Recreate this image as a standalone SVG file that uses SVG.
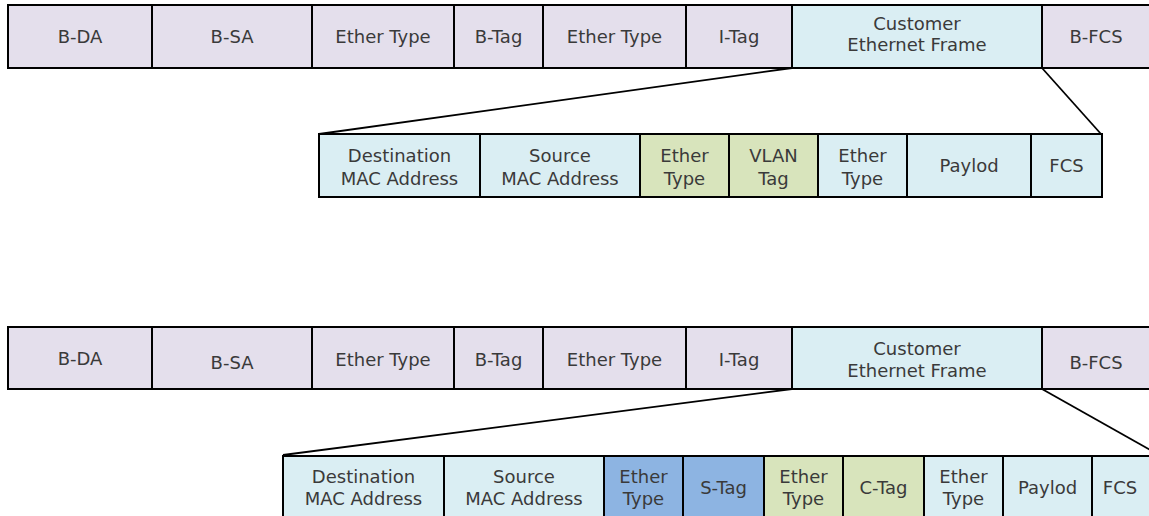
<svg xmlns="http://www.w3.org/2000/svg" width="1149" height="516" viewBox="0 0 1149 516">
<style>
.box{stroke:#000;stroke-width:2}
.lav{fill:#E4DFEC}.lb{fill:#DAEEF3}.gr{fill:#D8E4BC}.bl{fill:#8DB4E2}
text{font-family:"DejaVu Sans","Verdana",sans-serif;font-size:18px;fill:#3a3a3a;text-anchor:middle}
.conn line{stroke:#000;stroke-width:1.8}
</style>
<rect x="0" y="0" width="1149" height="516" fill="#fff"/>
<g id="frame1">
<g id="f1-bda"><rect class="box lav" x="8" y="5" width="144" height="63"/><text x="80" y="43">B-DA</text></g>
<g id="f1-bsa"><rect class="box lav" x="152" y="5" width="160" height="63"/><text x="232" y="43">B-SA</text></g>
<g id="f1-et1"><rect class="box lav" x="312" y="5" width="142" height="63"/><text x="383" y="43">Ether Type</text></g>
<g id="f1-btag"><rect class="box lav" x="454" y="5" width="89" height="63"/><text x="498.5" y="43">B-Tag</text></g>
<g id="f1-et2"><rect class="box lav" x="543" y="5" width="143" height="63"/><text x="614.5" y="43">Ether Type</text></g>
<g id="f1-itag"><rect class="box lav" x="686" y="5" width="106" height="63"/><text x="739" y="43">I-Tag</text></g>
<g id="f1-cef"><rect class="box lb" x="792" y="5" width="250" height="63"/><text x="917" y="30">Customer</text><text x="917" y="51">Ethernet Frame</text></g>
<g id="f1-bfcs"><rect class="box lav" x="1042" y="5" width="112" height="63"/><text x="1096" y="43">B-FCS</text></g>
</g>
<g id="inner1">
<g id="i1-da"><rect class="box lb" x="319" y="134" width="161" height="63"/><text x="399.5" y="162">Destination</text><text x="399.5" y="185">MAC Address</text></g>
<g id="i1-sa"><rect class="box lb" x="480" y="134" width="160" height="63"/><text x="560" y="162">Source</text><text x="560" y="185">MAC Address</text></g>
<g id="i1-et1"><rect class="box gr" x="640" y="134" width="89" height="63"/><text x="684.5" y="162">Ether</text><text x="684.5" y="185">Type</text></g>
<g id="i1-vlan"><rect class="box gr" x="729" y="134" width="89" height="63"/><text x="773.5" y="162">VLAN</text><text x="773.5" y="185">Tag</text></g>
<g id="i1-et2"><rect class="box lb" x="818" y="134" width="89" height="63"/><text x="862.5" y="162">Ether</text><text x="862.5" y="185">Type</text></g>
<g id="i1-pay"><rect class="box lb" x="907" y="134" width="124" height="63"/><text x="969" y="172">Paylod</text></g>
<g id="i1-fcs"><rect class="box lb" x="1031" y="134" width="71" height="63"/><text x="1066.5" y="172">FCS</text></g>
</g>
<g id="frame2">
<g id="f2-bda"><rect class="box lav" x="8" y="327" width="144" height="62"/><text x="80" y="365">B-DA</text></g>
<g id="f2-bsa"><rect class="box lav" x="152" y="327" width="160" height="62"/><text x="232" y="369">B-SA</text></g>
<g id="f2-et1"><rect class="box lav" x="312" y="327" width="142" height="62"/><text x="383" y="366">Ether Type</text></g>
<g id="f2-btag"><rect class="box lav" x="454" y="327" width="89" height="62"/><text x="498.5" y="366">B-Tag</text></g>
<g id="f2-et2"><rect class="box lav" x="543" y="327" width="143" height="62"/><text x="614.5" y="366">Ether Type</text></g>
<g id="f2-itag"><rect class="box lav" x="686" y="327" width="106" height="62"/><text x="739" y="366">I-Tag</text></g>
<g id="f2-cef"><rect class="box lb" x="792" y="327" width="250" height="62"/><text x="917" y="355">Customer</text><text x="917" y="377">Ethernet Frame</text></g>
<g id="f2-bfcs"><rect class="box lav" x="1042" y="327" width="112" height="62"/><text x="1096" y="369">B-FCS</text></g>
</g>
<g id="inner2">
<g id="i2-da"><rect class="box lb" x="283" y="456" width="161" height="66"/><text x="363.5" y="483">Destination</text><text x="363.5" y="505">MAC Address</text></g>
<g id="i2-sa"><rect class="box lb" x="444" y="456" width="160" height="66"/><text x="524" y="483">Source</text><text x="524" y="505">MAC Address</text></g>
<g id="i2-et1"><rect class="box bl" x="604" y="456" width="79" height="66"/><text x="643.5" y="483">Ether</text><text x="643.5" y="505">Type</text></g>
<g id="i2-stag"><rect class="box bl" x="683" y="456" width="81" height="66"/><text x="723.5" y="494">S-Tag</text></g>
<g id="i2-et2"><rect class="box gr" x="764" y="456" width="79" height="66"/><text x="803.5" y="483">Ether</text><text x="803.5" y="505">Type</text></g>
<g id="i2-ctag"><rect class="box gr" x="843" y="456" width="81" height="66"/><text x="883.5" y="494">C-Tag</text></g>
<g id="i2-et3"><rect class="box lb" x="924" y="456" width="79" height="66"/><text x="963.5" y="483">Ether</text><text x="963.5" y="505">Type</text></g>
<g id="i2-pay"><rect class="box lb" x="1003" y="456" width="89" height="66"/><text x="1047.5" y="494">Paylod</text></g>
<g id="i2-fcs"><rect class="box lb" x="1092" y="456" width="64" height="66"/><text x="1120" y="494">FCS</text></g>
</g>
<g id="connectors" class="conn">
<line x1="792" y1="68" x2="319" y2="134"/>
<line x1="1042" y1="68" x2="1101" y2="134"/>
<line x1="792" y1="389" x2="283" y2="455"/>
<line x1="1042" y1="389" x2="1152" y2="451"/>
</g>
</svg>
